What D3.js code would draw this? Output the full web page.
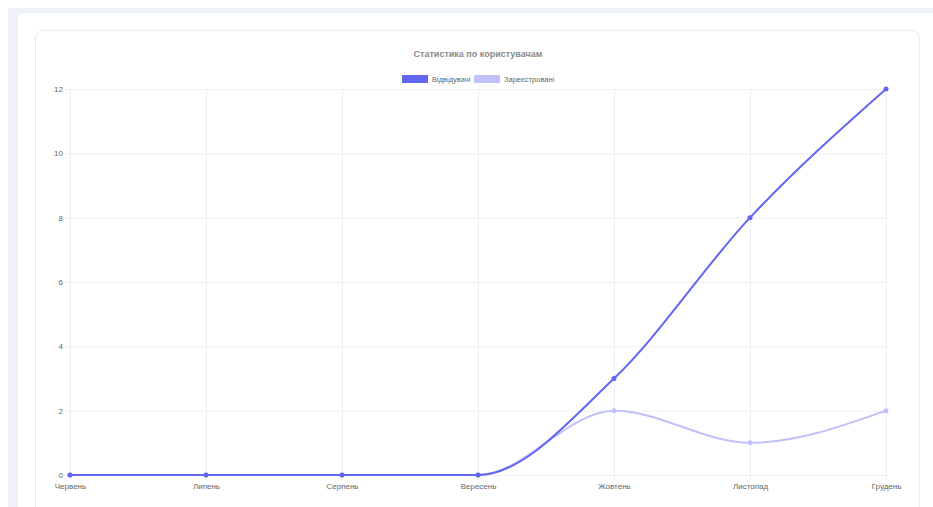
<!DOCTYPE html>
<html>
<head>
<meta charset="utf-8">
<script src="https://cdn.jsdelivr.net/npm/d3@7"></script>
<style>
  body { margin: 0; background: #fff; }
  svg { display: block; font-family: "Liberation Sans", Arial, sans-serif; }
</style>
</head>
<body>
<svg id="chart" width="933" height="507"></svg>
<script>
// DATA
// --------------------------------------
var months = ['Червень', 'Липень', 'Серпень', 'Вересень', 'Жовтень', 'Листопад', 'Грудень'];
var visitors = [0, 0, 0, 0, 3, 8, 12];
var registered = [0, 0, 0, 0, 2, 1, 2];
var yTicks = [0, 2, 4, 6, 8, 10, 12];

var series = [
    { name: 'Відвідувачі', values: visitors, color: '#6366f1' },
    { name: 'Зареєстровані', values: registered, color: '#c0c1fa' }
];

// --------------------------------------
// page frame
// --------------------------------------
var svg = d3.select('#chart');

svg.append('rect').attr('x', 8).attr('y', 8).attr('width', 940).attr('height', 520).attr('fill', '#eef1f6');
svg.append('rect').attr('x', 18).attr('y', 13).attr('width', 930).attr('height', 520).attr('rx', 6).attr('fill', '#fff');
svg.append('rect').attr('x', 35.5).attr('y', 30.5).attr('width', 884).attr('height', 500).attr('rx', 8)
    .attr('fill', '#fff').attr('stroke', '#e8ebf1');

// --------------------------------------
// scales
// --------------------------------------
var x = d3.scalePoint().domain(months).range([70, 886]);
var y = d3.scaleLinear().domain([0, 12]).range([475, 89]);

var grid = svg.append('g');

// horizontal grid
grid.selectAll('line.h').data(yTicks).enter().append('line')
    .attr('x1', 65).attr('x2', 886)
    .attr('y1', function(d){ return y(d) + 0.5; })
    .attr('y2', function(d){ return y(d) + 0.5; })
    .attr('stroke', '#eceef5');

// vertical grid
grid.selectAll('line.v').data(months).enter().append('line')
    .attr('x1', function(d){ return x(d) + 0.5; })
    .attr('x2', function(d){ return x(d) + 0.5; })
    .attr('y1', 89).attr('y2', 480)
    .attr('stroke', '#eceef5');

// axes via d3 axis, restyled
var yAxis = svg.append('g').attr('transform', 'translate(65,0)')
    .call(d3.axisLeft(y).tickValues(yTicks).tickSize(0).tickPadding(2));
var xAxis = svg.append('g').attr('transform', 'translate(0,480)')
    .call(d3.axisBottom(x).tickSize(0).tickPadding(3));

[yAxis, xAxis].forEach(function(a){
    a.select('.domain').remove();
    a.selectAll('text').attr('fill', '#666').style('font-size', '8px')
        .style('font-family', '"Liberation Sans", Arial, sans-serif');
});

// --------------------------------------
// lines
// --------------------------------------
var line = d3.line()
    .x(function(d, i){ return x(months[i]); })
    .y(function(d){ return y(d); })
    .curve(d3.curveMonotoneX);

// draw registered first so visitors sit on top
series.slice().reverse().forEach(function(s){
    svg.append('path')
        .attr('d', line(s.values))
        .attr('fill', 'none')
        .attr('stroke', s.color)
        .attr('stroke-width', 2);

    svg.selectAll(null).data(s.values).enter().append('circle')
        .attr('cx', function(d, i){ return x(months[i]); })
        .attr('cy', function(d){ return y(d); })
        .attr('r', 2.5)
        .attr('fill', s.color);
});

// --------------------------------------
// title + legend
// --------------------------------------
svg.append('text')
    .attr('x', 478).attr('y', 57)
    .attr('text-anchor', 'middle')
    .attr('fill', '#8a8a8a').style('font-size', '9px').style('font-weight', '600')
    .text('Статистика по користувачам');

var legendX = [402, 474];
series.forEach(function(s, i){
    var g = svg.append('g').attr('transform', 'translate(' + legendX[i] + ',75)');
    g.append('rect').attr('width', 26).attr('height', 8).attr('fill', s.color);
    g.append('text').attr('x', 30).attr('y', 7)
        .attr('fill', '#666').style('font-size', '7.5px')
        .text(s.name);
});
</script>
</body>
</html>
